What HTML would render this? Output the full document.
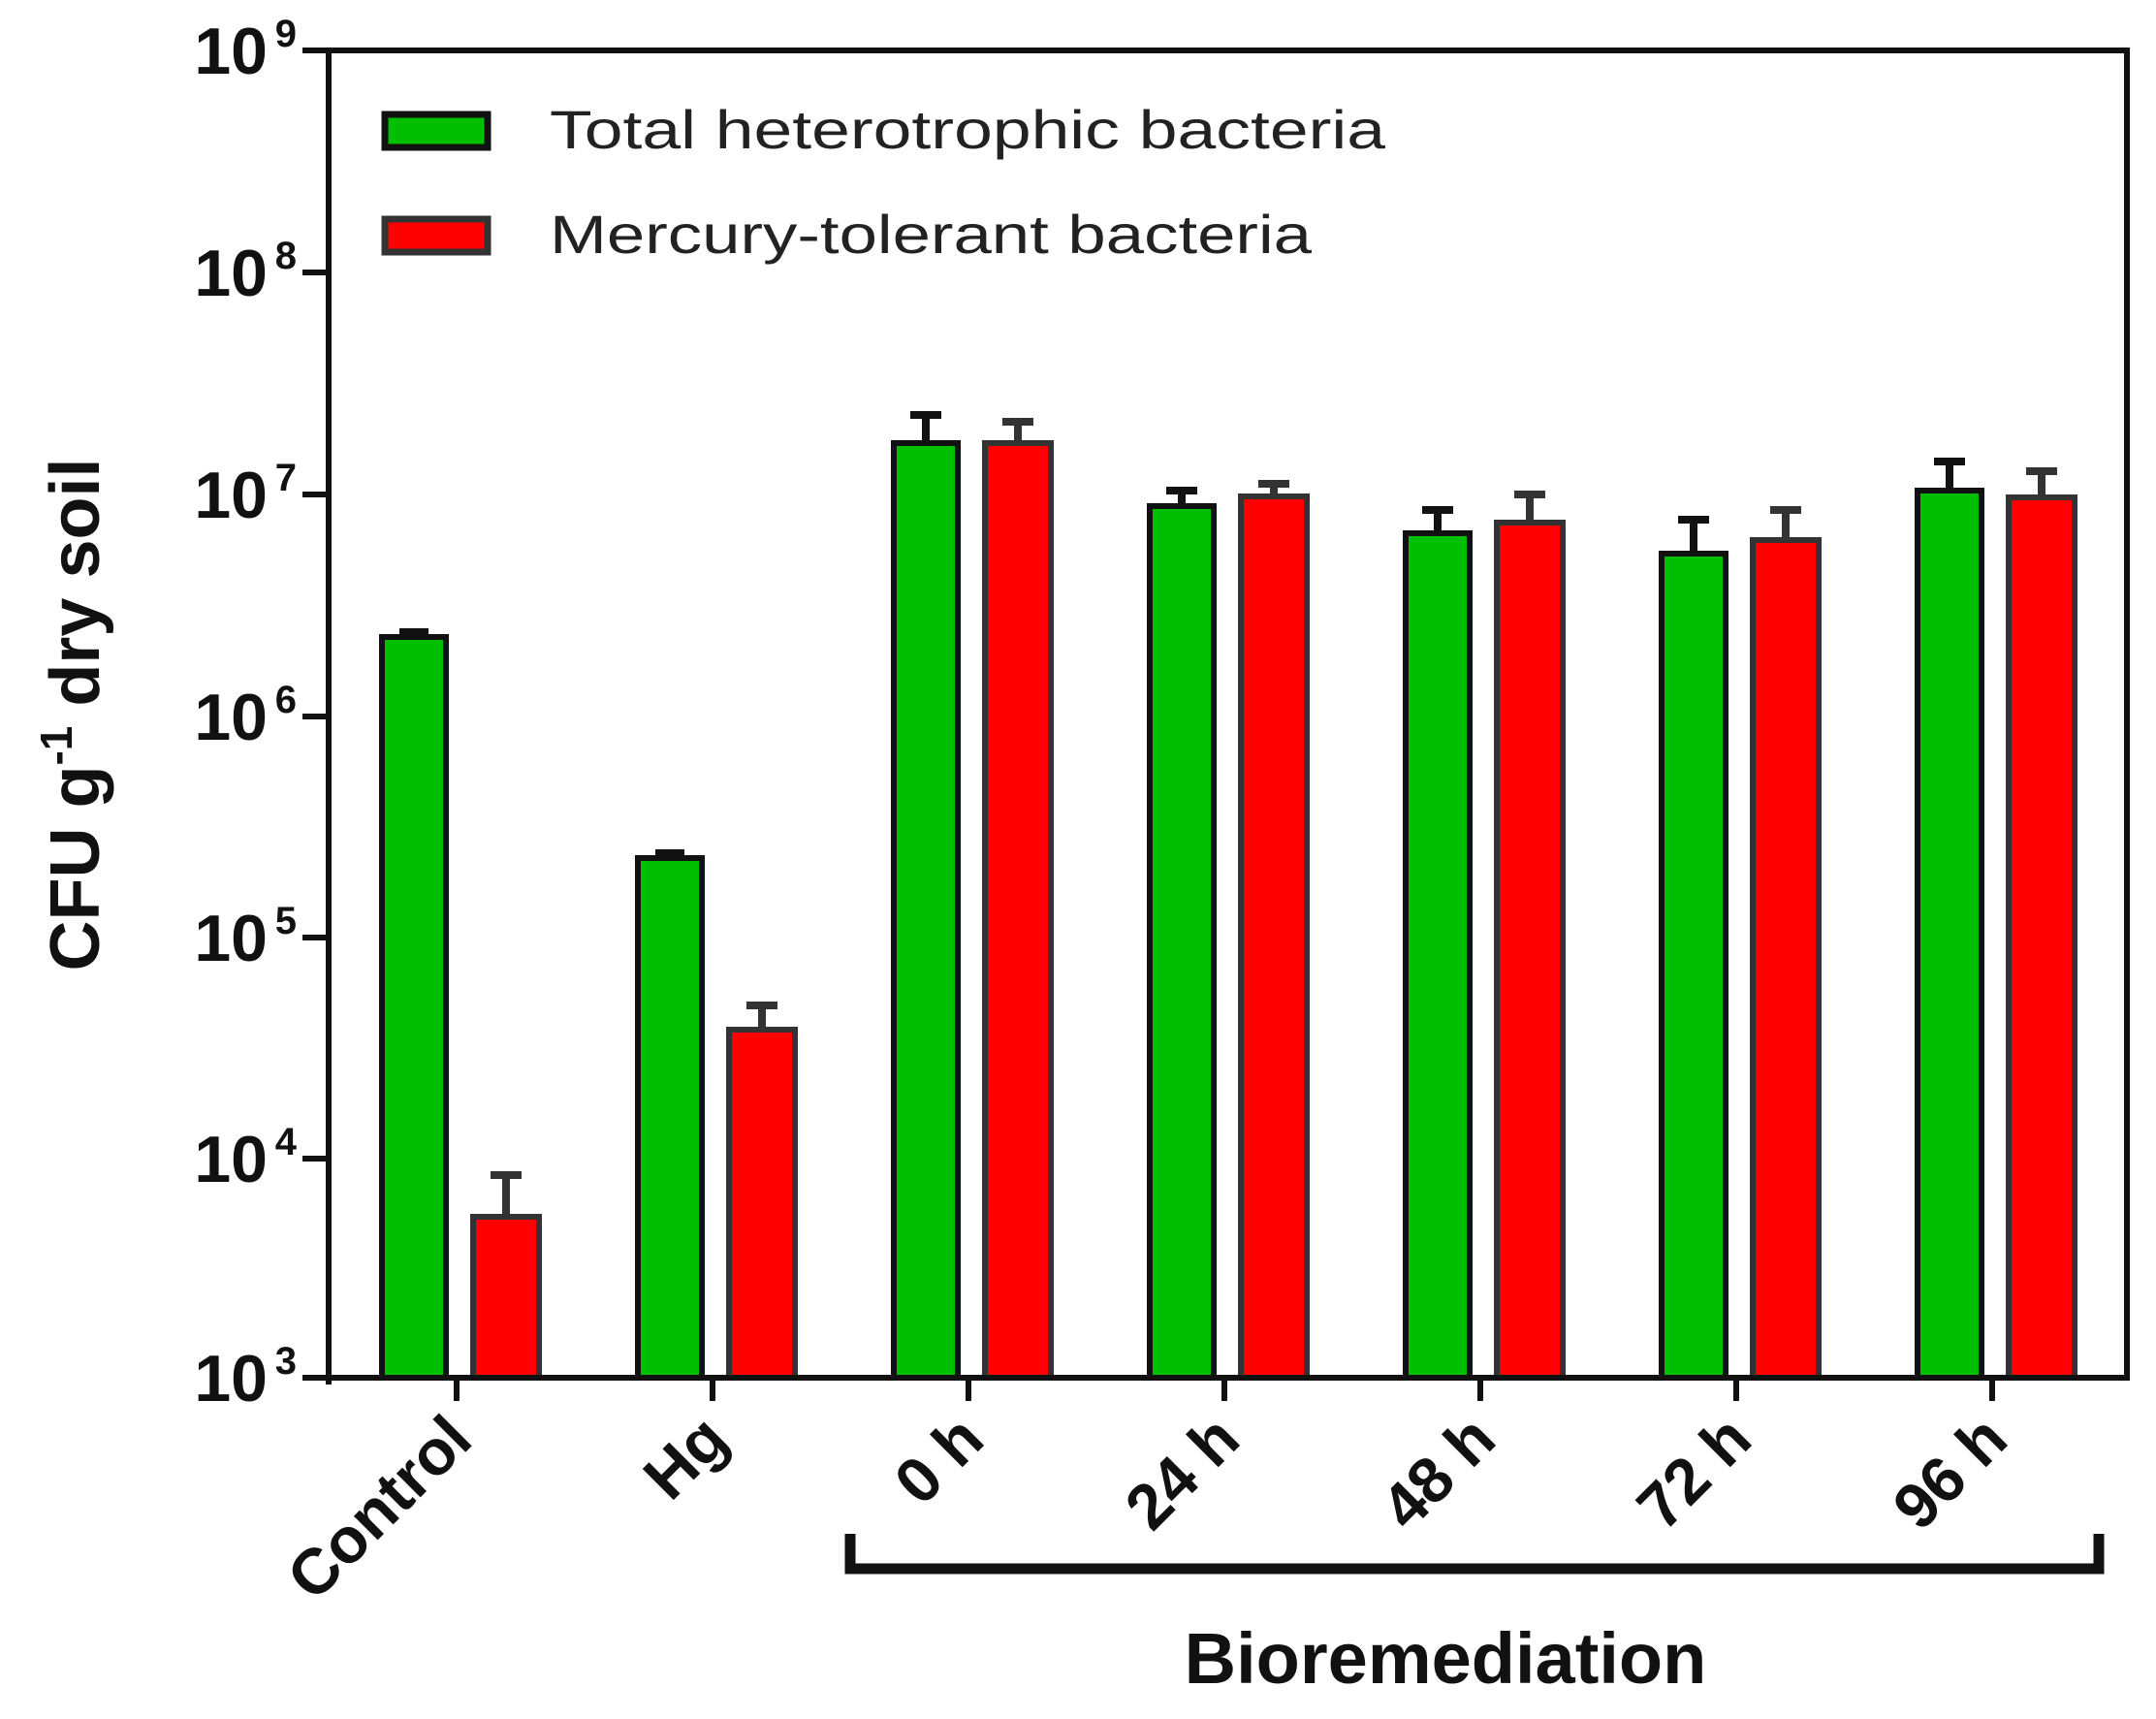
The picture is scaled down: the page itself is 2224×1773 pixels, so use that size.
<!DOCTYPE html>
<html><head><meta charset="utf-8"><style>html,body{margin:0;padding:0;background:#fff}</style></head>
<body>
<svg width="2224" height="1768" viewBox="0 0 2224 1768" xmlns="http://www.w3.org/2000/svg" font-family="'Liberation Sans', Arial, sans-serif">
<rect width="2224" height="1768" fill="#fff"/>
<g stroke="#111" stroke-width="6" stroke-linejoin="miter">
<rect x="394" y="657" width="66" height="764" fill="#00bf00"/>
<rect x="488" y="1255" width="68" height="166" fill="#ff0000" stroke="#333"/>
<rect x="658" y="885" width="66" height="536" fill="#00bf00"/>
<rect x="752" y="1062" width="68" height="359" fill="#ff0000" stroke="#333"/>
<rect x="922" y="457" width="66" height="964" fill="#00bf00"/>
<rect x="1016" y="457" width="68" height="964" fill="#ff0000" stroke="#333"/>
<rect x="1186" y="522" width="66" height="899" fill="#00bf00"/>
<rect x="1280" y="512" width="68" height="909" fill="#ff0000" stroke="#333"/>
<rect x="1450" y="550" width="66" height="871" fill="#00bf00"/>
<rect x="1544" y="539" width="68" height="882" fill="#ff0000" stroke="#333"/>
<rect x="1714" y="571" width="66" height="850" fill="#00bf00"/>
<rect x="1808" y="557" width="68" height="864" fill="#ff0000" stroke="#333"/>
<rect x="1978" y="506" width="66" height="915" fill="#00bf00"/>
<rect x="2072" y="513" width="68" height="908" fill="#ff0000" stroke="#333"/>
</g>
<g stroke="#111" stroke-width="8">
<path d="M427 657V652M412 652H442"/>
<path d="M522 1255V1212M506 1212H538" stroke="#333"/>
<path d="M691 885V880M676 880H706"/>
<path d="M786 1062V1037M770 1037H802" stroke="#333"/>
<path d="M955 457V428M939 428H971"/>
<path d="M1050 457V435M1034 435H1066" stroke="#333"/>
<path d="M1219 522V506M1203 506H1235"/>
<path d="M1314 512V499M1298 499H1330" stroke="#333"/>
<path d="M1483 550V526M1467 526H1499"/>
<path d="M1578 539V510M1562 510H1594" stroke="#333"/>
<path d="M1747 571V536M1731 536H1763"/>
<path d="M1842 557V526M1826 526H1858" stroke="#333"/>
<path d="M2011 506V476M1995 476H2027"/>
<path d="M2106 513V486M2090 486H2122" stroke="#333"/>
</g>
<g stroke="#111" stroke-width="6" fill="none">
<path d="M312 52H2194V1421H312"/>
<path d="M339 52V1428"/>
<path d="M312 281H339M312 510H339M312 739H339M312 967H339M312 1195H339"/>
<path d="M471 1421V1445M735 1421V1445M999 1421V1445M1263 1421V1445M1527 1421V1445M1791 1421V1445M2055 1421V1445"/>
</g>
<g font-weight="bold" font-size="68" fill="#111" text-anchor="end">
<text x="276" y="76">10</text><text x="306" y="48" font-size="40">9</text>
<text x="276" y="305">10</text><text x="306" y="277" font-size="40">8</text>
<text x="276" y="534">10</text><text x="306" y="506" font-size="40">7</text>
<text x="276" y="763">10</text><text x="306" y="735" font-size="40">6</text>
<text x="276" y="991">10</text><text x="306" y="963" font-size="40">5</text>
<text x="276" y="1219">10</text><text x="306" y="1191" font-size="40">4</text>
<text x="276" y="1445">10</text><text x="306" y="1417" font-size="40">3</text>
</g>
<text transform="translate(102,737) rotate(-90)" text-anchor="middle" font-weight="bold" font-size="72" fill="#111">CFU g<tspan font-size="46" dy="-28">-1</tspan><tspan dy="28"> dry soil</tspan></text>
<rect x="397" y="118" width="106" height="34" fill="#00bf00" stroke="#111" stroke-width="7"/>
<rect x="397" y="226" width="106" height="34" fill="#ff0000" stroke="#333" stroke-width="7"/>
<text x="567" y="153" font-size="56" fill="#222" textLength="862" lengthAdjust="spacingAndGlyphs">Total heterotrophic bacteria</text>
<text x="567" y="261" font-size="56" fill="#222" textLength="786" lengthAdjust="spacingAndGlyphs">Mercury-tolerant bacteria</text>
<g font-weight="bold" font-size="66" fill="#111" text-anchor="end">
<text transform="translate(490,1488) rotate(-45)">Control</text>
<text transform="translate(754,1488) rotate(-45)">Hg</text>
<text transform="translate(1018,1488) rotate(-45)">0 h</text>
<text transform="translate(1282,1488) rotate(-45)">24 h</text>
<text transform="translate(1546,1488) rotate(-45)">48 h</text>
<text transform="translate(1810,1488) rotate(-45)">72 h</text>
<text transform="translate(2074,1488) rotate(-45)">96 h</text>
</g>
<path d="M877 1582V1618H2165V1582" stroke="#111" stroke-width="11" fill="none"/>
<text x="1491" y="1736" text-anchor="middle" font-weight="bold" font-size="74" fill="#111">Bioremediation</text>
</svg>
</body></html>
